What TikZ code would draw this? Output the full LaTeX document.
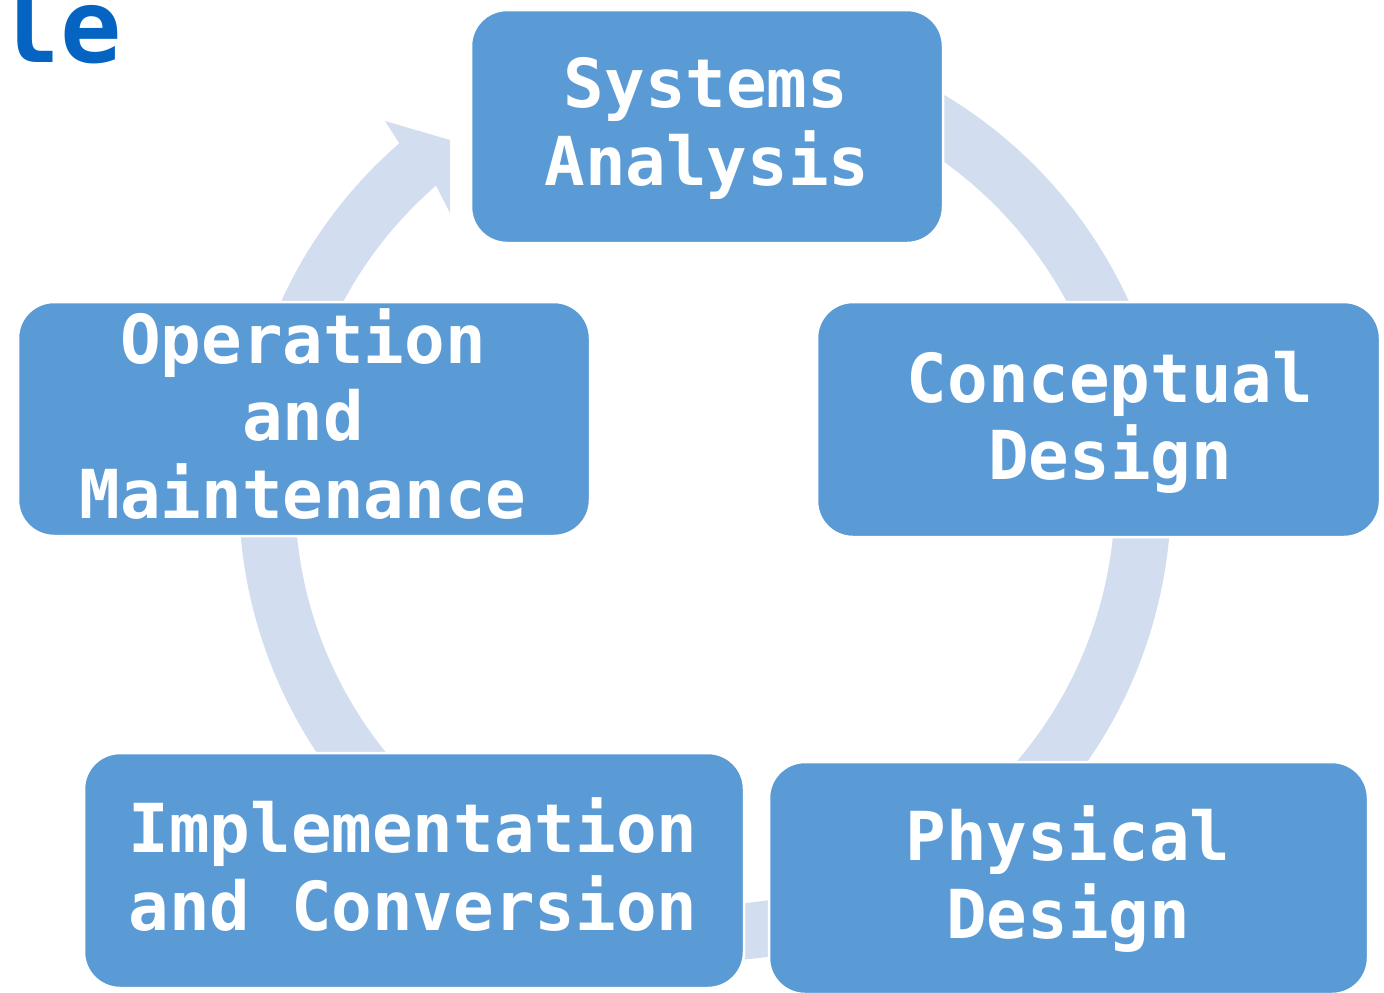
\documentclass[tikz,border=0pt]{standalone}
\usepackage{fontspec}
\setmonofont{DejaVu Sans Mono}
\usetikzlibrary{calc}
\definecolor{boxblue}{HTML}{5B9BD5}
\definecolor{ringblue}{HTML}{D2DEEF}
\definecolor{titleblue}{HTML}{0563C1}
\begin{document}
\begin{tikzpicture}[x=1pt,y=-1pt,
  stage/.style={fill=boxblue, draw=white, line width=2.5pt, rounded corners=36pt, inner sep=0pt},
  lbl/.style={text=white, font=\fontsize{67.5}{78}\selectfont\ttfamily\bfseries, inner sep=0pt, anchor=base},
  ring/.style={fill=ringblue, draw=none}
]
\useasboundingbox (0,0) rectangle (1384,993);
\coordinate (C) at (705,495);
% cycle ring with arrowhead
\fill[ring] ($(C)+(-75:466)$) arc[start angle=-75, end angle=229, radius=466]
  -- (385,121) -- (450,140) -- (450,213) -- ($(C)+(229:410)$)
  arc[start angle=229, end angle=-75, radius=410] -- cycle;
% title fragment
\node[font=\fontsize{102}{102}\selectfont\ttfamily\bfseries, text=titleblue, anchor=base east, inner sep=0pt] (title) at (122,62) {le};
% boxes
\node[stage, minimum width=472pt, minimum height=233pt] (sa) at (707,126.5) {};
\node[stage, minimum width=563pt, minimum height=235pt] (cd) at (1098.5,419.5) {};
\node[stage, minimum width=599pt, minimum height=232pt] (pd) at (1068.5,878) {};
\node[stage, minimum width=660pt, minimum height=235pt] (ic) at (414,870.5) {};
\node[stage, minimum width=572pt, minimum height=234pt] (om) at (304,419) {};
% labels
\node[lbl] (sa1) at (706,107) {Systems};
\node[lbl] (sa2) at (707,185) {Analysis};
\node[lbl] (cd1) at (1110,402) {Conceptual};
\node[lbl] (cd2) at (1110,479) {Design};
\node[lbl] (pd1) at (1068,860) {Physical};
\node[lbl] (pd2) at (1068,938) {Design};
\node[lbl] (ic1) at (413,852) {Implementation};
\node[lbl] (ic2) at (413,930) {and Conversion};
\node[lbl] (om1) at (303,363) {Operation};
\node[lbl] (om2) at (303,440) {and};
\node[lbl] (om3) at (303,518) {Maintenance};
\end{tikzpicture}
\end{document}
